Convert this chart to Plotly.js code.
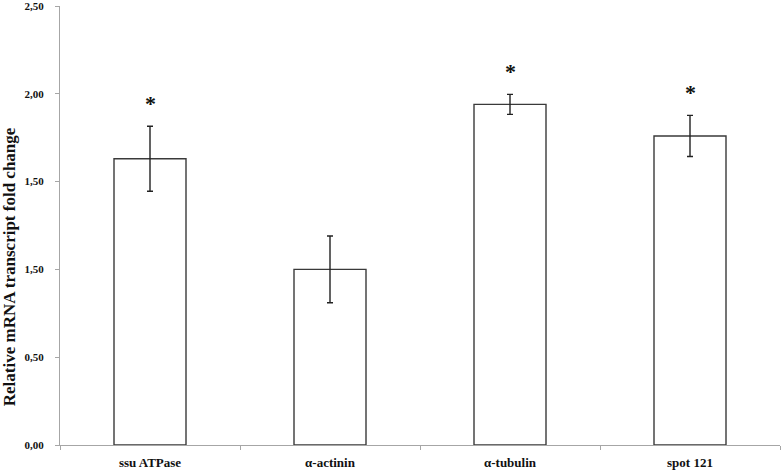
<!DOCTYPE html>
<html>
<head>
<meta charset="utf-8">
<script src="https://cdn.plot.ly/plotly-3.0.1.min.js"></script>
<style>
  html, body { margin: 0; padding: 0; background: #fff; }
  #chart { width: 784px; height: 474px; }
</style>
</head>
<body>
<div id="chart"></div>
<script>
// gene names and fold change
var genes = ['ssu ATPase', 'α-actinin', 'α-tubulin', 'spot 121'];
var foldChange = [1.63, 1.00, 1.94, 1.76];
var errors = [0.185, 0.19, 0.057, 0.117];
var signif = ['*', '', '*', '*'];

// tick labels as printed in the original (note the duplicated 1,50)
var yTickVals = [0, 0.5, 1.0, 1.5, 2.0, 2.5];
var yTickText = ['0,00', '0,50', '1,50', '1,50', '2,00', '2,50'];

var serif = 'Liberation Serif, Times New Roman, serif';

var bars = {
  x: genes,
  y: foldChange,
  type: 'bar',
  width: 0.4,
  marker: {
    color: '#ffffff',
    line: { color: '#3a3a3a', width: 1.4 }
  },
  error_y: {
    type: 'data',
    array: errors,
    visible: true,
    color: '#222222',
    thickness: 1.4,
    width: 3
  },
  hoverinfo: 'skip'
};

var notes = [];
for (var i = 0; i < genes.length; i++) {
  if (!signif[i]) continue;
  notes.push({
    x: genes[i],
    y: foldChange[i] + errors[i],
    text: '<b>' + signif[i] + '</b>',
    showarrow: false,
    yanchor: 'bottom',
    yshift: 8,
    font: { family: serif, size: 22, color: '#111' }
  });
}

// y title drawn as annotation: in the original it sits below the axis centre
notes.push({
  xref: 'paper', yref: 'paper',
  x: 0, y: 0.405,
  xanchor: 'center', yanchor: 'middle',
  xshift: -51,
  text: '<b>Relative mRNA transcript fold change</b>',
  textangle: -90,
  showarrow: false,
  font: { family: serif, size: 17, color: '#111' }
});

var layout = {
  width: 784,
  height: 474,
  margin: { l: 60, r: 4, t: 6, b: 29 },
  paper_bgcolor: '#fff',
  plot_bgcolor: '#fff',
  showlegend: false,
  font: { family: serif, color: '#111' },
  xaxis: {
    type: 'category',
    showline: true,
    linecolor: '#a6a6a6',
    linewidth: 1,
    ticks: 'outside',
    tickson: 'boundaries',
    ticklen: 4,
    tickcolor: '#a6a6a6',
    showgrid: false,
    zeroline: false,
    ticklabelstandoff: 5,
    tickfont: { family: serif, size: 13, color: '#111', weight: 'bold' }
  },
  yaxis: {
    range: [0, 2.5],
    showline: true,
    linecolor: '#a6a6a6',
    linewidth: 1,
    ticks: 'outside',
    ticklen: 4,
    tickcolor: '#a6a6a6',
    showgrid: false,
    zeroline: false,
    tickmode: 'array',
    tickvals: yTickVals,
    ticktext: yTickText,
    ticklabeloverflow: 'allow',
    ticklabelstandoff: 9,
    tickfont: { family: serif, size: 11, color: '#111', weight: 'bold' }
  },
  annotations: notes
};

Plotly.newPlot('chart', [bars], layout, { staticPlot: true, displayModeBar: false });
</script>
</body>
</html>
